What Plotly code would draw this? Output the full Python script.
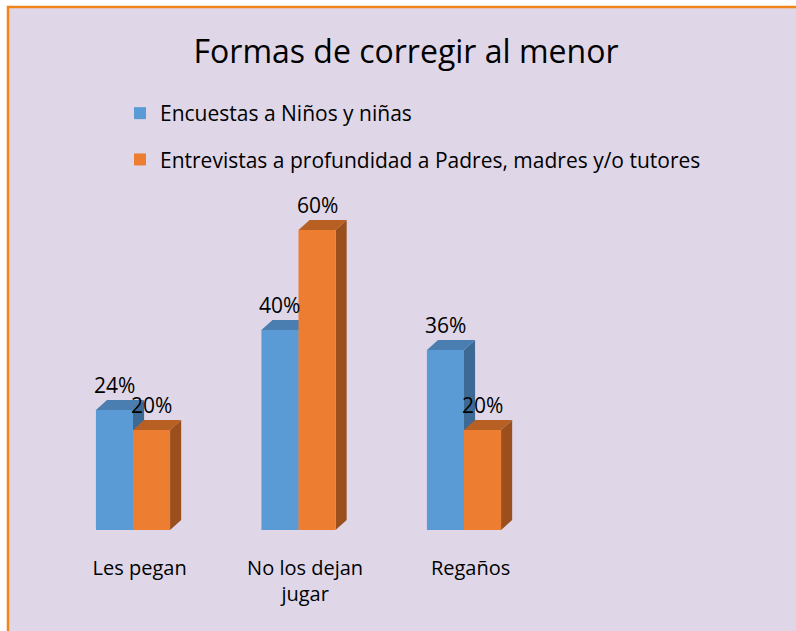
import plotly.graph_objects as go

categories = ["Les pegan", "No los dejan<br>jugar", "Regaños"]
series_names = ["Encuestas a Niños y niñas",
                "Entrevistas a profundidad a Padres, madres y/o tutores"]
ninos = [24, 40, 36]
padres = [20, 60, 20]
labels_ninos = ["24%", "40%", "36%"]
labels_padres = ["20%", "60%", "20%"]

W, H = 796, 631
FONT = "Open Sans"
BAR_W = 0.224        # width of one bar in category units
DX = 0.067           # depth offset (category units)
DY = 2.0             # depth offset (value units)

front = ["#5B9BD5", "#ED7D31"]
top = ["#4A7EB0", "#B85F24"]
side = ["#3D6A95", "#9B4F1D"]

fig = go.Figure()
shapes = []
# background frame
shapes.append(dict(type="rect", xref="paper", yref="paper", x0=8 / W, x1=1.05,
                   y0=-0.05, y1=1 - 7 / H, fillcolor="#DFD7E8",
                   line=dict(color="#F08519", width=2.5), layer="below"))

annotations = []
for s, (vals, labs, off) in enumerate([(ninos, labels_ninos, -BAR_W), (padres, labels_padres, 0.0)]):
    xs = list(range(len(categories)))
    fig.add_trace(go.Bar(x=xs, y=vals, base=0, offset=off, width=BAR_W,
                         marker=dict(color=front[s], line=dict(width=0)),
                         name=series_names[s], legendgroup=str(s),
                         hoverinfo="skip"))
    for i, v in enumerate(vals):
        x0 = i + off
        x1 = x0 + BAR_W
        # side face
        shapes.append(dict(type="path", xref="x", yref="y", layer="below",
                           path=f"M{x1},0 L{x1+DX},{DY} L{x1+DX},{v+DY} L{x1},{v} Z",
                           fillcolor=side[s], line=dict(width=0)))
        # top face
        shapes.append(dict(type="path", xref="x", yref="y", layer="below",
                           path=f"M{x0},{v} L{x0+DX},{v+DY} L{x1+DX},{v+DY} L{x1},{v} Z",
                           fillcolor=top[s], line=dict(width=0)))
        annotations.append(dict(x=(x0 + x1) / 2, y=v + DY, xref="x", yref="y",
                                text=labs[i], showarrow=False, yanchor="bottom",
                                yshift=-1, font=dict(family=FONT, size=21, color="#000")))

xr0 = -133 / 165.5
xr1 = (W - 133) / 165.5
fig.update_layout(
    width=W, height=H,
    margin=dict(l=0, r=0, t=0, b=0),
    paper_bgcolor="white",
    plot_bgcolor="rgba(0,0,0,0)",
    barmode="overlay",
    showlegend=True,
    title=dict(text="Formas de corregir al menor", x=406 / W, xanchor="center",
               y=1 - 52 / H, yanchor="middle",
               font=dict(family=FONT, size=32, color="#000")),
    legend=dict(x=120 / W, y=1 - 93 / H, xanchor="left", yanchor="top",
                traceorder="grouped", tracegroupgap=16,
                bgcolor="rgba(0,0,0,0)",
                font=dict(family=FONT, size=21, color="#000")),
    xaxis=dict(range=[xr0, xr1], domain=[0, 1], showgrid=False, zeroline=False,
               showline=False, tickvals=[i + 0.04 for i in range(3)],
               ticktext=categories, ticks="", ticklabelstandoff=9,
               tickfont=dict(family=FONT, size=20, color="#000"), fixedrange=True),
    yaxis=dict(range=[-3, 106], domain=[(H - 545) / H, 1], showgrid=False,
               zeroline=False, showline=False, showticklabels=False, fixedrange=True),
    shapes=shapes,
    annotations=annotations,
)

fig.write_html("out.html", config={"displayModeBar": False},
               post_script="document.body.style.margin='0';document.body.style.overflow='hidden';")
